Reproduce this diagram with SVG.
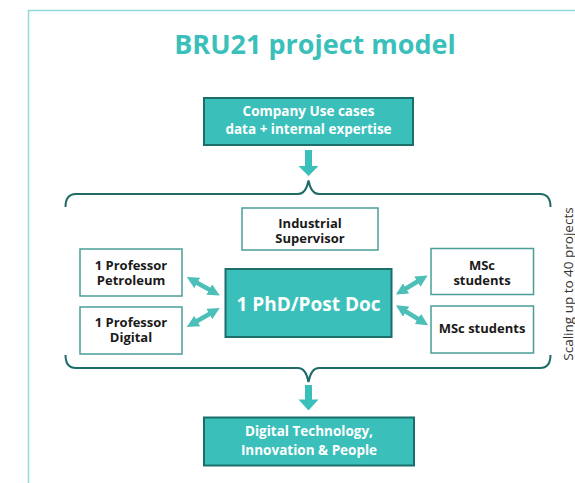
<svg xmlns="http://www.w3.org/2000/svg" width="575" height="483" viewBox="0 0 575 483">
<defs>
<style>
.title{font-family:"Open Sans","Liberation Sans",sans-serif;font-weight:bold;font-size:27px;fill:#3bbfbb;text-anchor:middle}
.tbox{fill:#3bbfbb;stroke:#1b6e6a;stroke-width:2}
.wbox{fill:#fff;stroke:#4a9e99;stroke-width:1.5}
.wt{font-family:"Open Sans","Liberation Sans",sans-serif;font-weight:bold;font-size:13.5px;fill:#fff;text-anchor:middle}
.bt{font-family:"Open Sans","Liberation Sans",sans-serif;font-weight:bold;font-size:13px;fill:#1a1a1a;text-anchor:middle}
.big{font-family:"Open Sans","Liberation Sans",sans-serif;font-weight:bold;font-size:19px;fill:#fff;text-anchor:middle}
.brace{fill:none;stroke:#1f6b68;stroke-width:2}
.dbl{stroke:#4cc0b8;stroke-width:4.5;fill:none}
.side{font-family:"Open Sans","Liberation Sans",sans-serif;font-size:13.5px;fill:#333;text-anchor:middle}
</style>
<marker id="ah" viewBox="0 0 10 10" refX="5" refY="5" markerWidth="12" markerHeight="12" markerUnits="userSpaceOnUse" orient="auto-start-reverse">
<path d="M0,0 L10,5 L0,10 z" fill="#4cc0b8"/>
</marker>
</defs>
<rect x="0" y="0" width="575" height="483" fill="#fff"/>
<path d="M28.5,490 V10.5 H590" fill="none" stroke="#8fdbd7" stroke-width="1.5"/>
<text class="title" x="315" y="54">BRU21 project model</text>

<g id="company">
<rect class="tbox" x="204" y="98" width="209" height="47"/>
<text class="wt" x="308.5" y="116">Company Use cases</text>
<text class="wt" x="308.5" y="134">data + internal expertise</text>
</g>

<g id="industrial">
<rect class="wbox" x="242" y="208" width="136" height="42"/>
<text class="bt" x="310" y="227.5">Industrial</text>
<text class="bt" x="310" y="242.5">Supervisor</text>
</g>

<g id="prof-petroleum">
<rect class="wbox" x="80" y="249" width="102" height="47"/>
<text class="bt" x="131" y="269.5">1 Professor</text>
<text class="bt" x="131" y="284.5">Petroleum</text>
</g>

<g id="prof-digital">
<rect class="wbox" x="80" y="307" width="102" height="47"/>
<text class="bt" x="131" y="326.5">1 Professor</text>
<text class="bt" x="131" y="341.5">Digital</text>
</g>

<g id="phd">
<rect class="tbox" x="225.5" y="269" width="166" height="68"/>
<text class="big" x="308.5" y="311">1 PhD/Post Doc</text>
</g>

<g id="msc1">
<rect class="wbox" x="431" y="248.5" width="102.5" height="46"/>
<text class="bt" x="482" y="270">MSc</text>
<text class="bt" x="482" y="284.5">students</text>
</g>

<g id="msc2">
<rect class="wbox" x="431" y="306" width="102.5" height="47"/>
<text class="bt" x="482" y="332.5">MSc students</text>
</g>

<g id="outcome">
<rect class="tbox" x="204" y="417.5" width="210" height="48"/>
<text class="wt" x="309" y="436">Digital Technology,</text>
<text class="wt" x="309" y="455">Innovation &amp; People</text>
</g>

<g id="connectors">
<path d="M305,150 H312 V166 H318.5 L308.5,176 L298.5,166 H305 Z" fill="#3bbfbb"/>
<path class="brace" d="M65.5,207 Q65.5,194 76,194 H298 Q306,194 308.5,180.5 Q311,194 319,194 H540 Q550.5,194 550.5,207"/>
<path class="brace" d="M65.5,355 Q65.5,368 76,368 H298 Q306,368 308.5,382 Q311,368 319,368 H540 Q550.5,368 550.5,355"/>
<path d="M305,385 H312 V399.5 H318.5 L308.5,410.5 L298.5,399.5 H305 Z" fill="#3bbfbb"/>
<line class="dbl" x1="192" y1="280" x2="214.5" y2="292.5" marker-start="url(#ah)" marker-end="url(#ah)"/>
<line class="dbl" x1="192" y1="324" x2="214.5" y2="311" marker-start="url(#ah)" marker-end="url(#ah)"/>
<line class="dbl" x1="401" y1="291.5" x2="422.5" y2="278.5" marker-start="url(#ah)" marker-end="url(#ah)"/>
<line class="dbl" x1="401" y1="308.5" x2="423" y2="322" marker-start="url(#ah)" marker-end="url(#ah)"/>
</g>

<text class="side" transform="translate(572.5,284) rotate(-90)">Scaling up to 40 projects</text>
</svg>
